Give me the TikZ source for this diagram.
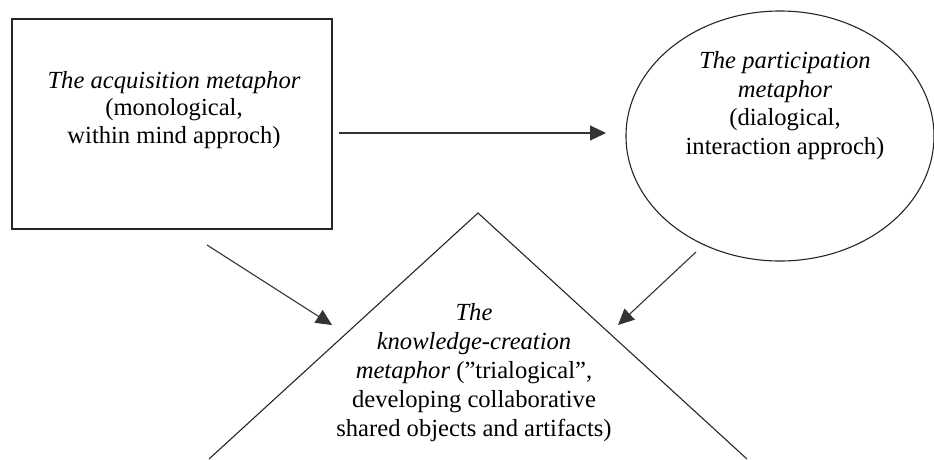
\documentclass[tikz,border=0pt]{standalone}
\usepackage{fontspec}
\setmainfont{Liberation Serif}
\usetikzlibrary{arrows.meta,shapes.geometric}
\begin{document}
\begin{tikzpicture}[x=1pt,y=-1pt,
  outline/.style={draw=black!85,line width=1.1pt},
  caption/.style={inner sep=0pt,align=center,font=\fontsize{24.6}{#1}\selectfont},
  flow/.style={draw=black!80,line width=1.1pt,-{Triangle[length=16pt,width=15pt]}}]
\useasboundingbox (0,0) rectangle (934,459);
\clip (0,0) rectangle (934,459);

% the three metaphors
\node[outline,rectangle,minimum width=320pt,minimum height=210pt,inner sep=0pt]
  (acq) at (172,124) {};
\node[outline,ellipse,minimum width=308pt,minimum height=250pt,inner sep=0pt]
  (part) at (780,136) {};
\coordinate (apex) at (478,213);
\coordinate (baseL) at (209,459);
\coordinate (baseR) at (747,459);
\draw[outline,line join=miter] (baseL) -- (apex) -- (baseR);

% texts
\node[caption=27.2] (acqtext) at (174,110)
  {\textit{The acquisition metaphor}\\(monological,\\within mind approch)};
\node[caption=28.4] (parttext) at (785,105.5)
  {\textit{The participation}\\\textit{metaphor}\\(dialogical,\\interaction approch)};
\node[caption=28.8] (kctext) at (474,372.5)
  {\textit{The}\\\textit{knowledge-creation}\\\textit{metaphor} (”trialogical”,\\developing collaborative\\shared objects and artifacts)};

% connector end points
\coordinate (acqR) at (339,133);
\coordinate (partL) at (606,133);
\coordinate (acqB) at (207,245);
\coordinate (kcL) at (332,325);
\coordinate (partB) at (696,252);
\coordinate (kcR) at (618,325);

\draw[flow] (acqR) -- (partL);
\draw[flow] (acqB) -- (kcL);
\draw[flow] (partB) -- (kcR);
\end{tikzpicture}
\end{document}
